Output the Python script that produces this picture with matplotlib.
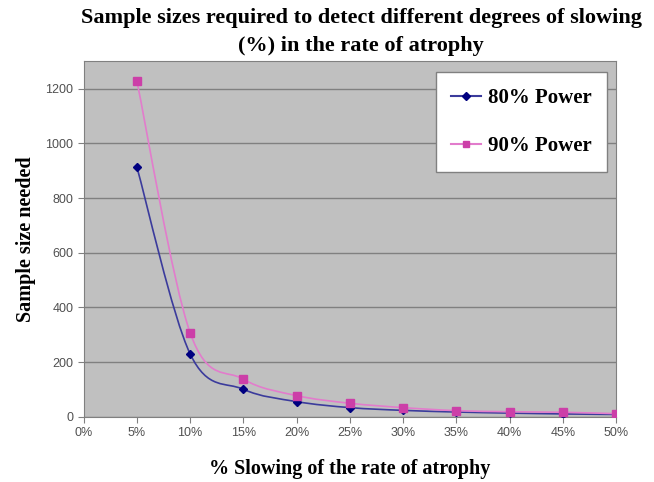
import numpy as np
import matplotlib
matplotlib.use('Agg')
import matplotlib.pyplot as plt
from matplotlib.path import Path
from matplotlib.patches import PathPatch
from matplotlib.lines import Line2D

# data
slowing = [5, 10, 15, 20, 25, 30, 35, 40, 45, 50]
power80 = [912, 230, 101, 56, 34, 24, 18, 14, 11, 9]
power90 = [1226, 307, 138, 78, 50, 34, 23, 19, 17, 12]
x_ticks = [0, 5, 10, 15, 20, 25, 30, 35, 40, 45, 50]
y_ticks = [0, 200, 400, 600, 800, 1000, 1200]


def smooth_path(xs, ys, t=1/6):
    # Excel-like smoothed line: cubic bezier through the points
    xs = np.asarray(xs, float)
    ys = np.asarray(ys, float)
    n = len(xs)
    verts = [(xs[0], ys[0])]
    codes = [Path.MOVETO]
    for i in range(n - 1):
        p0 = (xs[max(i - 1, 0)], ys[max(i - 1, 0)])
        p1 = (xs[i], ys[i])
        p2 = (xs[i + 1], ys[i + 1])
        p3 = (xs[min(i + 2, n - 1)], ys[min(i + 2, n - 1)])
        c1 = (p1[0] + (p2[0] - p0[0]) * t, p1[1] + (p2[1] - p0[1]) * t)
        c2 = (p2[0] - (p3[0] - p1[0]) * t, p2[1] - (p3[1] - p1[1]) * t)
        verts += [c1, c2, p2]
        codes += [Path.CURVE4] * 3
    return Path(verts, codes)


fig = plt.figure(figsize=(6.54, 4.82), dpi=100)
ax = fig.add_axes([0.128, 0.135, 0.814, 0.738])
ax.set_facecolor('#c0c0c0')

blue_line, blue_mark = '#3b3b9c', '#000080'
pink_line, pink_mark = '#e27ccc', '#cc3fa8'

ax.add_patch(PathPatch(smooth_path(slowing, power80), facecolor='none',
                       edgecolor=blue_line, linewidth=1.2, zorder=3))
ax.add_patch(PathPatch(smooth_path(slowing, power90), facecolor='none',
                       edgecolor=pink_line, linewidth=1.2, zorder=3))
ax.plot(slowing, power80, linestyle='none', marker='D', markersize=4.5,
        color=blue_mark, zorder=4)
ax.plot(slowing, power90, linestyle='none', marker='s', markersize=5.5,
        color=pink_mark, zorder=4)

ax.set_xlim(0, 50)
ax.set_ylim(0, 1300)
ax.set_xticks(x_ticks)
ax.set_xticklabels([str(v) + '%' for v in x_ticks])
ax.set_yticks(y_ticks)
ax.grid(axis='y', color='#808080', linewidth=1)
ax.set_axisbelow(True)
for s in ax.spines.values():
    s.set_color('#808080')
ax.tick_params(colors='#808080', labelcolor='#505050', labelsize=9,
               direction='out', length=4)
for lab in ax.get_xticklabels() + ax.get_yticklabels():
    lab.set_family('Liberation Sans')

serif = {'family': 'Liberation Serif', 'weight': 'bold'}
ax.set_xlabel('% Slowing of the rate of atrophy', fontdict=serif, fontsize=14.5, labelpad=14)
ax.set_ylabel('Sample size needed', fontdict=serif, fontsize=14.5, labelpad=7)
fig.text(0.552, 0.962, 'Sample sizes required to detect different degrees of slowing',
         ha='center', va='center', fontsize=16, **serif)
fig.text(0.552, 0.905, '(%) in the rate of atrophy',
         ha='center', va='center', fontsize=16, **serif)

handles = [Line2D([], [], color=blue_line, marker='D', markersize=4,
                  markerfacecolor=blue_mark, markeredgecolor=blue_mark),
           Line2D([], [], color=pink_line, marker='s', markersize=5,
                  markerfacecolor=pink_mark, markeredgecolor=pink_mark)]
leg = ax.legend(handles, ['80% Power', '90% Power'], loc='upper right',
                bbox_to_anchor=(0.983, 0.969), prop={'family': 'Liberation Serif',
                'weight': 'bold', 'size': 15}, fancybox=False, framealpha=1,
                edgecolor='#808080', labelspacing=1.35, borderpad=0.75,
                handlelength=1.45, handletextpad=0.3, borderaxespad=0)
leg.get_frame().set_linewidth(1)

fig.savefig('out.png', dpi=100)
